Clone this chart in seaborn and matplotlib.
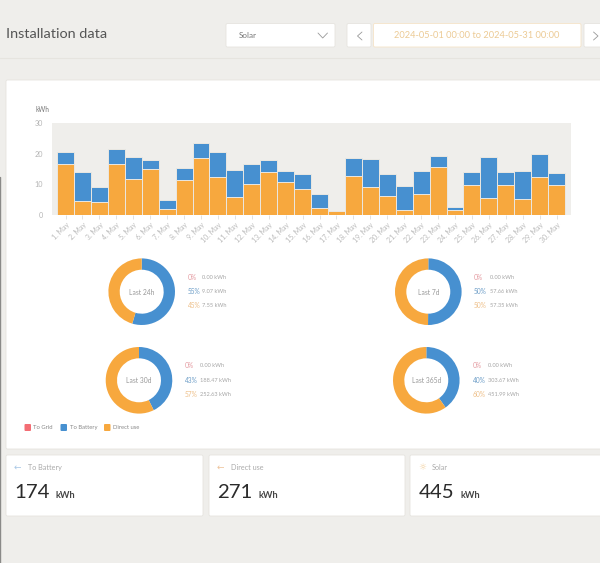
import matplotlib
matplotlib.use("Agg")
import matplotlib.pyplot as plt
import seaborn as sns
import pandas as pd
from matplotlib.patches import Rectangle, FancyBboxPatch
from matplotlib.lines import Line2D

days = [f"{i}. May" for i in range(1, 31)]
direct_use = [16.6, 4.4, 4.0, 16.6, 11.6, 14.8, 1.9, 11.2, 18.7, 12.4, 5.7, 9.9, 14.1, 10.8, 8.3,
              2.1, 1.1, 12.5, 8.9, 6.0, 1.7, 6.8, 15.5, 1.5, 9.6, 5.6, 9.6, 5.1, 12.2, 9.6]
totals = [20.4, 14.0, 9.2, 21.4, 18.8, 17.8, 4.9, 15.2, 23.3, 20.4, 14.6, 16.5, 17.9, 14.3, 13.2,
          6.9, 1.3, 18.4, 18.3, 13.4, 9.4, 14.3, 19.2, 2.4, 14.0, 19.0, 14.1, 14.2, 19.8, 13.7]
y_ticks = [0, 10, 20, 30]

donut_names = ["Last 24h", "Last 7d", "Last 30d", "Last 365d"]
to_grid_kwh = [0.00, 0.00, 0.00, 0.00]
to_battery_kwh = [9.07, 57.66, 188.47, 303.67]
direct_kwh = [7.55, 57.35, 252.63, 451.99]
to_grid_pct = ["0%", "0%", "0%", "0%"]
to_battery_pct = ["55%", "50%", "43%", "40%"]
direct_pct = ["45%", "50%", "57%", "60%"]
legend_names = ["To Grid", "To Battery", "Direct use"]
card_names = ["To Battery", "Direct use", "Solar"]
card_values = ["174", "271", "445"]

BG = "#efeeeb"
BLUE = "#4790d0"
ORANGE = "#f7a83e"
RED = "#f36d74"
W, H = 600, 563

sns.set_theme(style="white")
plt.rcParams["font.family"] = ["Lato", "DejaVu Sans"]
fig = plt.figure(figsize=(W / 100, H / 100), dpi=100, facecolor=BG)


def px_axes(x0, y0, x1, y1, **kw):
    return fig.add_axes([x0 / W, 1 - y1 / H, (x1 - x0) / W, (y1 - y0) / H], **kw)


# page furniture, in pixel coordinates
page = fig.add_axes([0, 0, 1, 1], zorder=0)
page.set_xlim(0, W)
page.set_ylim(H, 0)
page.axis("off")


def box(x0, y0, x1, y1, fc="white", ec="#e6e4df", r=1.5):
    page.add_patch(FancyBboxPatch((x0 + r, y0 + r), x1 - x0 - 2 * r, y1 - y0 - 2 * r,
                                  boxstyle=f"round,pad={r},rounding_size={r}",
                                  fc=fc, ec=ec, lw=0.6))


page.add_line(Line2D([0, W], [57.5, 57.5], color="#e6e4df", lw=0.8))
page.add_line(Line2D([0.4, 0.4], [177, H], color="#8a8a88", lw=1.0))
page.text(6.5, 33.5, "Installation data", fontsize=10.4, color="#555555", va="center")
box(226, 23.5, 335, 47)
page.text(239, 35.5, "Solar", fontsize=5.8, color="#777777", va="center")
page.plot([318, 322.7, 327.5], [33, 38, 33], color="#999999", lw=0.6)
box(347, 23.5, 371, 47)
page.plot([362, 357.5, 362], [32, 36, 40], color="#999999", lw=0.6)
box(373.5, 23.5, 581, 47, ec="#f5e3c8")
page.text(477, 35.5, "2024-05-01 00:00 to 2024-05-31 00:00", fontsize=6.7,
          color="#ecca94", ha="center", va="center")
box(584, 23.5, 606, 47)
page.plot([593.5, 598, 593.5], [32, 36, 40], color="#999999", lw=0.6)

box(6, 80, 606, 449)
for (x0, x1), name, val, icon, ic in zip([(6, 203), (209, 405), (410, 606)], card_names, card_values,
                                         ["←", "←", "☼"], ["#a9c8e6", "#eec39b", "#f3cf9b"]):
    box(x0, 455, x1, 516)
    page.text(x0 + 8, 467.5, icon, fontsize=6.5, color=ic, va="center", family="DejaVu Sans")
    page.text(x0 + 22, 467.7, name, fontsize=5.2, color="#aaaaaa", va="center")
    t = page.text(x0 + 8.5, 497.5, val, fontsize=14.7, color="#2b2b2b", va="baseline")
    fig.canvas.draw()
    bb = t.get_window_extent()
    page.text(bb.x1 + 6, 497.5, "kWh", fontsize=6.6, color="#444444", va="baseline", fontweight="bold")

# stacked bars
ax = px_axes(52, 123, 570.5, 214.7, zorder=2)
df = pd.DataFrame({"day": days, "total": totals, "direct": direct_use})
edge = "#eae8e2"
sns.barplot(data=df, x="day", y="total", color=BLUE, saturation=1, width=1.0,
            edgecolor=edge, linewidth=0.7, ax=ax)
sns.barplot(data=df, x="day", y="direct", color=ORANGE, saturation=1, width=1.0,
            edgecolor=edge, linewidth=0.7, ax=ax)
ax.set_facecolor(BG)
ax.set_xlim(-0.8, 29.82)
ax.set_ylim(0, 30)
ax.set_xlabel("")
ax.set_ylabel("")
ax.set_yticks(y_ticks)
ax.tick_params(axis="y", length=0, pad=6.5, labelsize=5.2, labelcolor="#b5b5b5")
ax.tick_params(axis="x", length=3, width=0.5, color="#d5d5d5", pad=1.5, labelsize=5,
               labelcolor="#b9b9b9", bottom=True)
plt.setp(ax.get_xticklabels(), rotation=45, ha="right", rotation_mode="anchor")
sns.despine(ax=ax, left=True, bottom=True)
page.text(35, 109.5, "kWh", fontsize=4.8, color="#777777", va="center")

# donuts
centers = [(141.7, 291.7), (428.3, 291.7), (139, 380.3), (426.3, 380.3)]
label_x = [(187.7, 202.3), (474, 489.7), (185, 200), (472.7, 488)]
R = 33.3
for i, (cx, cy) in enumerate(centers):
    a = px_axes(cx - R, cy - R, cx + R, cy + R, zorder=2)
    a.pie([to_grid_kwh[i], to_battery_kwh[i], direct_kwh[i]], colors=[RED, BLUE, ORANGE],
          startangle=90, counterclock=False, radius=1.0,
          wedgeprops=dict(width=0.34, linewidth=0))
    a.set_xlim(-1, 1)
    a.set_ylim(-1, 1)
    page.text(cx, cy + 0.5, donut_names[i], fontsize=4.9, color="#999999", ha="center", va="center")
    xp, xv = label_x[i]
    rows = [(to_grid_pct[i], to_grid_kwh[i], "#e49aa0"),
            (to_battery_pct[i], to_battery_kwh[i], "#6f9fc8"),
            (direct_pct[i], direct_kwh[i], "#eec08a")]
    for k, (pct, kwh, col) in enumerate(rows):
        yy = cy - 14.6 + k * 14.4
        page.text(xp, yy, pct, fontsize=4.8, color=col, va="center")
        page.text(xv, yy, f"{kwh:.2f} kWh", fontsize=4.1, color="#a5a5a5", va="center")

# legend
for x, tx, name, col in zip([24.5, 60.5, 104], [33, 70, 113], legend_names, [RED, BLUE, ORANGE]):
    page.add_patch(FancyBboxPatch((x + 1, 425), 4.5, 5, boxstyle="round,pad=1,rounding_size=1", fc=col, ec="none"))
    page.text(tx, 427.7, name, fontsize=4.2, color="#888888", va="center")

fig.savefig("out.png", dpi=100, facecolor=BG)
